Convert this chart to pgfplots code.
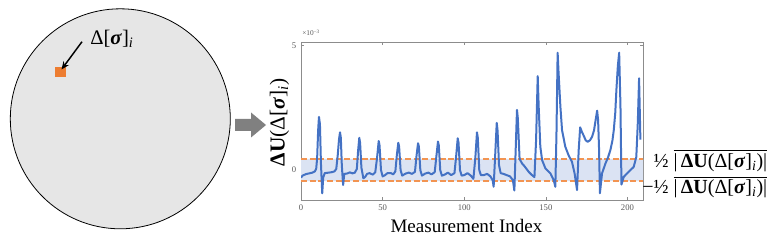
\documentclass[border=0pt]{standalone}
\usepackage{fontspec}
\setmainfont{Liberation Serif}
\usepackage{amsmath}
\usepackage{pgfplots}
\pgfplotsset{compat=1.18}
\usetikzlibrary{arrows.meta}
\definecolor{lineblue}{RGB}{68,114,196}
\definecolor{bandblue}{RGB}{219,227,243}
\definecolor{dashorange}{RGB}{242,148,82}
\definecolor{squareorange}{RGB}{237,125,49}
\definecolor{axisgray}{RGB}{140,140,140}
\definecolor{ticklabelgray}{RGB}{90,90,90}
\definecolor{circlegray}{RGB}{230,230,230}
\definecolor{arrowgray}{RGB}{128,128,128}
\newcommand{\dsig}{Δ[\textbf{\textit{σ}}]\textsubscript{\textit{i}}}
\newcommand{\dUb}{\textbf{ΔU}(Δ[\textbf{\textit{σ}}]\textsubscript{\textit{i}})}
\begin{document}
\begin{tikzpicture}[x=0.75pt,y=0.75pt]
\useasboundingbox (0,0) rectangle (777,242);
% left illustration
\draw[fill=circlegray, draw=black, line width=0.6pt] (120.3,123.2) circle (110);
\fill[squareorange] (55,164.7) rectangle (65.7,174.7);
\draw[-{Stealth[length=6pt,width=5pt]}, line width=1.1pt] (82,200.3) -- (61.5,172.5);
\node[anchor=base west, inner sep=0pt, font=\fontsize{15.5}{18}\selectfont] at (90,197) {\dsig};
% block arrow
\fill[arrowgray] (235,111) -- (251,111) -- (251,104.5) -- (266,117) -- (251,129.5) -- (251,123) -- (235,123) -- cycle;
\begin{axis}[
  at={(225.75pt,31.5pt)}, anchor=south west, scale only axis,
  width=256.5pt, height=118.5pt,
  xmin=0, xmax=209.5, ymin=-1.2, ymax=5.15,
  xtick={0,50,100,150,200}, ytick={0,5},
  tick align=inside, major tick length=2.5pt,
  axis line style={draw=axisgray, line width=0.6pt},
  every tick/.style={draw=axisgray, line width=0.5pt},
  ticklabel style={font=\fontsize{6.5}{7}\selectfont, text=ticklabelgray},
  /pgf/number format/assume math mode=true,
  clip=true,
]
\addplot[draw=none, fill=bandblue, forget plot] coordinates {(0,-0.44) (209.5,-0.44) (209.5,0.45) (0,0.45) (0,-0.44)};
\addplot[draw=dashorange, line width=1.5pt, dash pattern=on 4.5pt off 2pt, forget plot] table {
x y
0 -0.44
209.5 -0.44
};
\addplot[draw=dashorange, line width=1.5pt, dash pattern=on 4.5pt off 2pt, forget plot] table {
x y
0 0.45
209.5 0.45
};
\addplot[draw=lineblue, line width=1.5pt, line join=round, mark=none] coordinates {
(0,-0.30) (1,-0.22) (3,-0.16) (5,-0.13) (7,-0.10) (8.5,-0.05) (9.3,0.05) (9.9,0.5) (10.5,1.6) (11.0,2.14) (11.6,1.85) (12.2,0.3) (13.0,-0.93) (13.6,-0.3) (14.5,-0.12) (17,-0.10) (19,-0.08) (20.5,-0.05) (21.6,0.05) (22.5,0.6) (23.3,1.25) (23.9,1.52) (24.4,1.3) (25.0,0.2) (25.8,-0.6) (26.5,-0.15) (28,-0.14) (30,-0.09) (31.5,-0.13) (33,-0.1) (34.2,0.05) (35.0,0.8) (35.7,1.30) (36.2,1.1) (37.0,0.1) (38.2,-0.33) (39.2,-0.28) (40.5,-0.15) (42,-0.12) (44,-0.18) (45.5,-0.08) (46.6,0.5) (47.6,1.17) (48.1,1.0) (49.0,0.0) (50.0,-0.25) (51.5,-0.2) (53,-0.12) (55,-0.12) (56.5,-0.17) (57.8,-0.05) (58.7,0.6) (59.6,1.10) (60.1,0.95) (61.0,0.0) (62.0,-0.22) (64,-0.14) (66,-0.1) (68,-0.15) (69.8,-0.07) (70.8,0.6) (71.7,1.08) (72.2,0.95) (73.1,0.0) (74.1,-0.22) (76,-0.14) (78,-0.1) (80,-0.17) (81.9,-0.08) (83.0,0.6) (83.9,1.15) (84.4,1.0) (85.3,0.0) (86.3,-0.22) (88,-0.18) (90,-0.1) (92,-0.2) (94.0,-0.12) (95.1,0.6) (96.0,1.28) (96.5,1.1) (97.4,0.0) (98.4,-0.22) (100,-0.2) (102,-0.12) (104,-0.22) (105.6,-0.35) (106.8,0.5) (107.8,1.52) (108.3,1.3) (109.2,0.0) (110.2,-0.2) (112,-0.2) (114,-0.15) (116,-0.25) (117.4,-0.4) (118.0,-0.67) (118.8,0.4) (119.9,1.90) (120.4,1.6) (121.3,0.2) (122.3,-0.12) (124,-0.15) (126,-0.2) (128,-0.25) (129.8,-0.4) (130.7,-0.82) (131.4,0.6) (132.3,2.42) (132.8,2.1) (133.9,0.45) (135.4,0.27) (137,0.15) (139.5,-0.07) (141.5,-0.2) (143.0,-0.28) (144.0,1.2) (145.0,3.78) (145.6,2.55) (146.6,0.94) (147.7,0.40) (149.7,0.07) (152.8,-0.13) (154.8,-0.40) (155.8,-0.67) (156.5,1.5) (157.2,4.72) (157.8,3.89) (158.9,2.55) (159.9,1.61) (161.9,0.94) (163.9,0.60) (166.0,0.33) (167.6,-0.13) (169.1,-0.80) (170.1,0.80) (171.0,1.72) (172,1.55) (173.2,1.38) (174.4,1.2) (175.6,1.14) (177,1.2) (178.3,1.34) (179.5,1.6) (180.3,1.94) (181.4,2.39) (182.0,2.01) (182.6,0.80) (183.1,-0.93) (184.4,-0.13) (186.5,0.27) (188,0.5) (189.5,0.80) (190.8,1.2) (191.6,1.61) (192.5,2.3) (193.2,3.22) (194.1,4.2) (194.9,4.72) (195.7,2.55) (196.3,-0.58) (197.7,-0.27) (200.7,-0.07) (203.8,0.13) (205.4,0.53) (206.3,1.88) (207.1,3.69) (207.9,1.23)
};
\end{axis}
% exponent label
\node[anchor=base west, inner sep=0pt, text=ticklabelgray, font=\fontsize{5.5}{6}\selectfont] at (302,206) {×10\textsuperscript{−3}};
% axis labels
\node[rotate=90, inner sep=0pt, font=\fontsize{16}{18}\selectfont] at (279.5,119.5) {\dUb};
\node[anchor=base, inner sep=0pt, font=\fontsize{14.3}{16}\selectfont] at (466.5,9.3) {Measurement Index};
% right labels
\node[anchor=base east, inner sep=0pt, font=\fontsize{15}{17}\selectfont] at (767.5,74.7) {½ $\overline{\mbox{|\,\dUb|}}$};
\node[anchor=base east, inner sep=0pt, font=\fontsize{15}{17}\selectfont] at (767.5,48) {−½ $\overline{\mbox{|\,\dUb|}}$};
\end{tikzpicture}
\end{document}
